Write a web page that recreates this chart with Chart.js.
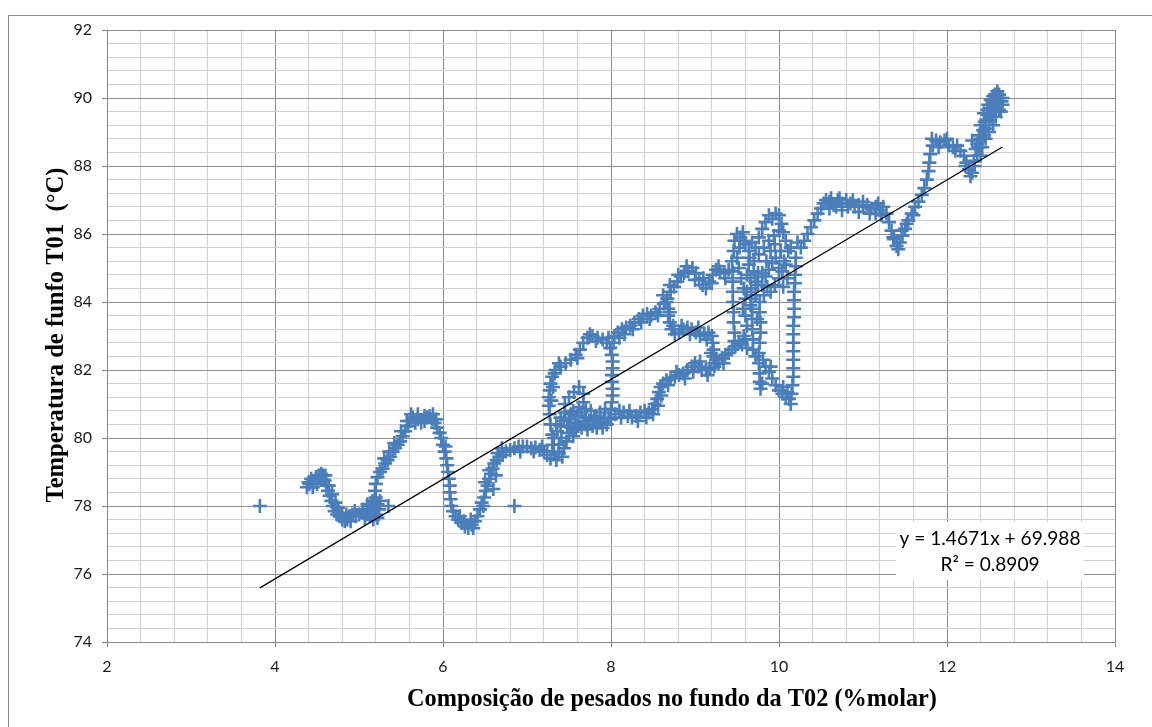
<!DOCTYPE html>
<html lang="pt">
<head>
<meta charset="utf-8">
<title>Temperatura de fundo T01 x composição de pesados T02</title>
<script src="https://cdn.jsdelivr.net/npm/chart.js@4/dist/chart.umd.min.js"></script>
<style>
  html, body { margin: 0; padding: 0; background: #ffffff; }
  #quadro { position: relative; width: 1152px; height: 727px; overflow: hidden; }
  #moldura { position: absolute; left: 8px; top: 15px; width: 1300px; height: 900px;
             border: 1px solid #8c8c8c; box-sizing: border-box; }
  #grafico { position: absolute; left: 0; top: 0; }
</style>
</head>
<body>
<div id="quadro">
  <div id="moldura"></div>
  <canvas id="grafico" width="1152" height="727"></canvas>
</div>
<script>
// Leituras (composição %molar, temperatura °C), agrupadas por trecho da trajetória
const trechoInicial = [
  [3.82,78.0],
  [4.38,78.55],[4.41,78.65],[4.43,78.8],[4.46,78.7],[4.49,78.85],[4.52,78.9],[4.55,78.8],[4.57,78.9],
  [4.59,78.75],[4.61,78.6],[4.63,78.45],[4.65,78.3],[4.67,78.15],[4.69,78.0],[4.71,77.85],[4.74,77.75],
  [4.77,77.7],[4.8,77.6],[4.83,77.55],[4.86,77.6],[4.89,77.7],[4.92,77.75],[4.96,77.7],[5.0,77.75],
  [5.04,77.8],[5.08,77.75],[5.11,77.85],[5.14,78.0],[5.16,78.15],[5.18,77.9],[5.2,77.75],[5.22,78.05],
  [5.24,77.9],[5.17,77.6],[5.2,78.25],
  [5.35,78.0],
  [5.19,78.45],[5.2,78.65],[5.22,78.85],[5.25,79.0],[5.28,79.1],[5.31,79.25],[5.34,79.35],[5.37,79.45],
  [5.4,79.6],[5.43,79.7],[5.46,79.8],[5.49,79.9],[5.52,80.05],[5.55,80.2],[5.58,80.35],[5.61,80.5],
  [5.64,80.6],[5.67,80.45],[5.7,80.55],[5.74,80.45],[5.78,80.5],[5.81,80.6],[5.84,80.65],[5.87,80.55],
  [5.9,80.45],[5.93,80.3],[5.96,80.15],[5.98,80.0],[6.0,79.8],[6.02,79.6],[6.04,79.4],[6.05,79.2],
  [6.06,79.0],[6.07,78.8],[6.08,78.6],[6.08,78.4],[6.09,78.2],[6.1,78.0],[6.12,77.85],[6.15,77.7],
  [6.18,77.6],[6.22,77.5],[6.26,77.4],[6.3,77.35],[6.34,77.45],[6.38,77.55],[6.41,77.7],[6.44,77.9],
  [6.46,78.1],[6.49,78.25],[6.51,78.45],[6.53,78.6],[6.55,78.8],[6.57,78.95],[6.59,79.1],[6.61,79.25],
  [6.64,79.35],[6.67,79.45],[6.71,79.5],[6.75,79.6],[6.8,79.65],[6.85,79.7],[6.9,79.75],[6.95,79.75],
  [7.0,79.75],[7.05,79.7],[7.1,79.72],[7.15,79.65],[7.2,79.6],[7.24,79.5],
  [6.5,78.7],[6.55,79.05],[6.6,78.5],[6.63,78.9],
  [6.85,78.0],
  [4.4,78.7],[4.45,78.55],[4.5,78.65],[4.55,78.95],[4.6,78.9],[4.64,78.6],[4.68,78.35],[4.72,78.1],
  [4.75,77.95],[4.8,77.8],[4.85,77.75],[4.9,77.55],[4.95,77.85],[5.05,77.9],[5.1,78.05],[5.13,77.7],
  [5.18,78.1],[5.22,77.65],[5.25,78.15],[5.07,77.65],[5.3,79.4],[5.36,79.6],[5.42,79.85],[5.5,80.2],
  [5.57,80.5],[5.62,80.7],[5.7,80.7],[5.78,80.65],[5.88,80.7],[5.92,80.55],[6.03,79.75],[6.2,77.7],
  [6.25,77.55],[6.33,77.6],[6.36,77.35],[6.48,78.0],[6.65,79.55],[6.7,79.7],[6.92,79.6],[7.08,79.6],
  [7.18,79.75]
];

const trechoCentral = [
  [7.28,79.4],[7.32,79.6],[7.35,79.35],[7.38,79.8],[7.41,80.0],[7.44,79.7],[7.47,79.9],[7.5,80.15],
  [7.53,80.3],[7.57,80.45],[7.61,80.35],[7.65,80.3],[7.7,80.4],[7.74,80.5],[7.78,80.35],[7.83,80.3],
  [7.88,80.45],[7.92,80.55],[7.97,80.6],
  [7.35,80.4],[7.4,80.6],[7.45,80.75],[7.5,80.55],[7.55,80.8],[7.6,80.65],[7.65,80.75],[7.7,80.6],
  [7.76,80.8],[7.82,80.65],[7.87,80.75],[7.93,80.85],
  [7.3,80.1],[7.28,80.4],[7.27,80.7],[7.26,80.95],[7.26,81.2],[7.27,81.4],[7.28,81.6],[7.3,81.8],
  [7.34,82.0],[7.4,82.1],[7.46,82.2],[7.52,82.3],[7.58,82.45],[7.63,82.6],[7.67,82.8],[7.72,82.95],
  [7.78,83.0],[7.84,82.95],[7.9,82.9],[7.95,82.8],[7.99,82.65],
  [8.01,82.45],[8.02,82.25],[8.02,82.05],[8.01,81.85],[8.01,81.65],[8.02,81.45],[8.02,81.25],[8.01,81.05],
  [8.0,80.85],
  [7.45,81.0],[7.5,81.2],[7.56,81.35],[7.62,81.5],[7.67,81.3],[7.67,81.05],[7.7,80.85],
  [8.05,80.7],[8.1,80.8],[8.15,80.75],[8.2,80.65],[8.25,80.6],[8.3,80.65],[8.35,80.75],[8.4,80.8],
  [8.45,80.75],[8.49,80.85],[8.52,81.0],[8.55,81.15],[8.57,81.35],[8.59,81.5],[8.62,81.6],[8.66,81.7],
  [8.71,81.75],[8.76,81.8],[8.81,81.85],[8.86,81.9],[8.91,82.0],[8.96,82.1],[9.0,82.2],[9.04,82.1],
  [9.08,82.0],[9.13,82.0],[9.18,82.05],[9.23,82.1],[9.28,82.2],[9.32,82.35],[9.36,82.45],[9.4,82.5],
  [8.04,83.0],[8.08,83.1],[8.13,83.2],[8.18,83.25],[8.23,83.3],[8.28,83.4],[8.33,83.5],[8.38,83.6],
  [8.43,83.65],[8.48,83.6],[8.53,83.7],[8.58,83.8],[8.63,83.95],[8.67,84.1],[8.71,84.3],[8.75,84.45],
  [8.79,84.6],[8.83,84.75],[8.87,84.85],[8.92,84.9],[8.97,85.0],[9.01,84.85],[9.05,84.65],[9.09,84.5],
  [9.13,84.4],[9.17,84.6],[9.21,84.8],[9.25,84.95],[9.3,84.9],[9.35,84.85],[9.4,84.95],
  [8.68,83.8],[8.68,83.6],[8.7,83.4],[8.72,83.2],[8.76,83.05],[8.81,83.1],[8.86,83.2],[8.91,83.25],
  [8.96,83.2],[9.01,83.1],[9.06,83.0],[9.11,83.05],[9.16,83.1],[9.2,83.0],[9.21,82.8],[9.22,82.6],
  [9.22,82.4],[9.23,82.2],
  [7.32,80.0],[7.36,80.2],[7.4,80.35],[7.44,80.5],[7.48,80.35],[7.52,80.7],[7.58,80.25],[7.62,80.9],
  [7.68,80.5],[7.72,80.25],[7.8,80.55],[7.85,80.45],[7.9,80.3],[7.95,80.4],[8.0,80.55],[7.42,79.45],
  [7.38,79.55],[7.55,80.05],[7.3,79.8],
  [7.31,81.5],[7.29,81.1],[7.33,81.9],[7.38,82.2],[7.6,82.35],[7.75,83.05],[7.82,82.85],[7.97,82.95],
  [8.03,82.8],[8.1,82.95],[8.16,83.05],[8.26,83.2],[8.36,83.4],[8.46,83.5],[8.56,83.6],[8.62,84.2],
  [8.7,84.5],[8.8,84.8],[8.9,85.05],[9.0,84.65],[9.1,84.7],[9.2,84.55],[9.28,85.05],[9.36,84.7],
  [8.12,80.6],[8.22,80.8],[8.32,80.5],[8.42,80.6],[8.5,80.7],[8.56,80.95],[8.6,81.25],[8.68,81.55],
  [8.78,81.95],[8.88,81.75],[8.98,81.95],[9.06,82.25],[9.15,81.85],[9.25,82.3],[9.34,82.2],
  [8.66,84.0],[8.7,83.7],[8.74,83.3],[8.84,83.3],[8.94,83.05],[9.04,83.25],[9.14,82.9],[9.19,82.5]
];

const trechoSuperior = [
  [9.44,82.6],[9.48,82.7],[9.52,82.8],[9.56,82.75],[9.6,82.9],[9.62,82.65],
  [9.44,85.2],[9.46,85.5],[9.47,85.8],[9.45,84.9],[9.45,84.6],[9.45,84.3],[9.45,84.0],[9.46,83.7],
  [9.46,83.4],[9.47,83.1],[9.47,82.85],
  [9.5,86.0],[9.54,85.9],[9.57,86.05],[9.6,85.7],
  [9.66,84.7],[9.67,84.4],[9.67,84.1],[9.68,83.8],[9.68,83.5],[9.68,83.2],[9.69,82.9],[9.69,82.6],
  [9.77,84.0],[9.77,83.7],[9.78,83.4],[9.78,83.1],[9.77,82.8],[9.76,82.5],[9.76,82.2],[9.77,81.9],
  [9.77,81.65],[9.78,81.45],
  [9.81,82.3],[9.84,82.1],[9.88,81.95],[9.92,81.75],[9.96,81.55],[10.0,81.4],[10.04,81.3],[10.08,81.2],
  [10.12,81.15],[10.15,81.3],
  [10.16,81.55],[10.17,81.8],[10.17,82.05],[10.17,82.3],[10.17,82.55],[10.17,82.8],[10.17,83.05],
  [10.17,83.3],[10.18,83.55],[10.18,83.8],[10.18,84.05],[10.18,84.3],[10.19,84.55],[10.19,84.8],
  [10.2,85.05],[10.2,85.3],
  [9.64,85.5],[9.68,85.75],[9.72,85.6],[9.76,85.9],[9.8,86.15],[9.84,86.35],[9.88,86.55],[9.92,86.45],
  [9.96,86.6],[10.0,86.55],[10.03,86.3],[10.05,86.05],[10.08,85.8],[10.11,85.5],[10.14,85.6],
  [10.22,85.75],[10.26,85.6],[10.3,85.8],[10.34,86.0],[10.38,86.2],[10.42,86.4],[10.46,86.6],[10.5,86.75],
  [10.53,86.9],[10.56,87.0],
  [9.52,85.0],[9.55,84.7],[9.58,84.4],[9.6,84.1],[9.62,84.8],[9.64,85.1],[9.72,84.6],[9.75,84.85],
  [9.8,84.5],[9.84,84.75],[9.88,84.95],[9.92,85.15],[9.96,85.3],[10.0,85.0],[9.72,84.2],[9.82,84.2],
  [9.86,84.45],[9.9,84.3],[9.95,84.5],[10.0,84.7],[10.04,84.9],[10.08,85.1],[10.05,84.45],[9.6,83.6],
  [9.62,83.3],[9.58,83.0],[9.7,85.2],[9.76,85.4],[9.82,85.6],[9.88,85.8],[9.94,85.95],[10.0,86.1],
  [9.5,85.3],[9.53,85.6],[9.58,85.8],[9.65,85.3],[9.7,84.9],[9.75,84.5],[9.8,84.85],[9.85,85.2],
  [9.9,85.5],[9.95,85.7],[10.02,85.5],[10.06,85.2],[10.1,84.7],[9.62,84.3],[9.57,83.8],[9.66,83.9],
  [9.74,83.5],[9.72,82.4],[9.8,81.6],[9.9,82.1],[10.05,81.5],[10.1,81.35],[10.14,81.0]
];

const trechoFinal = [
  [10.6,86.95],[10.65,86.85],[10.7,87.0],[10.75,86.9],[10.8,87.0],[10.85,86.9],[10.9,86.8],[10.95,86.85],
  [11.0,86.8],[11.05,86.85],[11.1,86.75],[11.15,86.8],[11.2,86.7],[11.24,86.8],[11.28,86.6],[11.31,86.35],
  [11.34,86.1],[11.37,85.85],[11.4,85.65],[11.44,85.75],[11.47,85.95],[11.5,86.15],[11.54,86.4],
  [11.58,86.6],[11.62,86.8],[11.66,86.95],[11.7,87.15],[11.73,87.35],[11.76,87.6],[11.78,87.85],
  [11.79,88.1],[11.8,88.35],[11.83,88.6],[11.87,88.75],[11.92,88.7],[11.97,88.75],[12.02,88.6],
  [12.07,88.55],[12.12,88.6],[12.16,88.45],[12.2,88.3],[12.23,88.1],[12.26,87.9],[12.3,87.8],[12.33,88.0],
  [12.36,88.3],[12.38,88.55],[12.4,88.8],[12.43,89.05],[12.45,89.3],[12.48,89.5],[12.51,89.7],[12.54,89.9],
  [12.57,90.1],[12.6,90.2],[12.63,90.0],[12.65,89.9],[12.66,89.8],[12.62,89.65],[12.58,89.45],[12.55,89.2],
  [12.5,89.0],[12.46,88.8],[12.42,88.55],[12.36,88.65],[12.3,88.75],[12.44,89.55],[12.49,89.8],
  [12.53,89.45],[12.59,89.75],[12.64,89.6],
  [10.6,86.75],[10.75,86.7],[10.95,86.65],[11.15,86.6],
  [10.62,87.05],[10.68,86.8],[10.72,87.05],[10.82,86.8],[10.88,87.0],[11.0,86.95],[11.08,86.6],
  [11.18,86.9],[11.22,86.55],[11.36,85.9],[11.42,85.55],[11.46,86.1],[11.52,86.3],[11.6,86.55],
  [11.82,88.8],[11.9,88.55],[12.0,88.8],[12.1,88.45],[12.22,88.0],[12.28,87.7],[12.32,88.15],[12.34,88.5],
  [12.4,89.2],[12.46,89.1],[12.5,89.35],[12.52,89.95],[12.56,89.65],[12.6,89.9],[12.62,90.1],[12.66,90.0],
  [12.55,90.05],[12.48,89.65],[12.44,88.9],[12.38,88.9],[12.4,88.3]
];

// Linha de tendência linear (coeficientes do ajuste)
const coefAngular = 1.4671;
const coefLinear = 69.988;
const rotuloEquacao = 'y = 1.4671x + 69.988';
const rotuloR2 = 'R² = 0.8909';

// Eixos
const marcasX = [2, 4, 6, 8, 10, 12, 14];
const marcasY = [74, 76, 78, 80, 82, 84, 86, 88, 90, 92];
const subdivisoes = 5;
const tituloX = 'Composição de pesados no fundo da T02 (%molar)';
const tituloY = 'Temperatura de funfo T01  (°C)';

const corPontos = '#4a7ebb';
const corGradePrincipal = '#8d8d8d';
const corGradeSecundaria = '#d2d2d2';
const corEixo = '#868686';

const pontos = [].concat(trechoInicial, trechoCentral, trechoSuperior, trechoFinal)
  .map(([x, y]) => ({ x, y }));
const xMin = Math.min(...pontos.map(p => p.x));
const xMax = Math.max(...pontos.map(p => p.x));
const tendencia = [xMin, xMax].map(x => ({ x, y: coefAngular * x + coefLinear }));

function marcasComSubdivisoes(principais, partes) {
  const lista = [];
  for (let i = 0; i < principais.length - 1; i++) {
    const a = principais[i], b = principais[i + 1];
    for (let k = 0; k < partes; k++) {
      lista.push({ value: a + (b - a) * k / partes, principal: k === 0 });
    }
  }
  lista.push({ value: principais[principais.length - 1], principal: true });
  return lista;
}

const ehPrincipal = c => !!(c && c.tick && c.tick.principal);

function eixo(principais, larguraOuAltura, horizontal) {
  return {
    type: 'linear',
    min: principais[0],
    max: principais[principais.length - 1],
    afterBuildTicks: s => { s.ticks = marcasComSubdivisoes(principais, subdivisoes); },
    afterFit: s => { if (horizontal) s.height = larguraOuAltura; else s.width = larguraOuAltura; },
    ticks: {
      autoSkip: false,
      maxRotation: 0,
      padding: 10,
      color: '#1a1a1a',
      font: { family: 'Lato', size: 16 },
      callback: (v, i, t) => (t[i] && t[i].principal) ? String(Math.round(v)) : ''
    },
    grid: {
      color: c => ehPrincipal(c) ? corGradePrincipal : corGradeSecundaria,
      tickColor: c => ehPrincipal(c) ? corEixo : 'rgba(0,0,0,0)',
      tickLength: 5,
      lineWidth: 1
    },
    border: { display: true, color: corEixo, width: 1 }
  };
}

// texto centrado em (x, y) com largura final dada
function textoAjustado(ctx, texto, familia, peso, largura, x, y, angulo) {
  ctx.save();
  ctx.font = `${peso} 20px ${familia}`;
  const tamanho = 20 * largura / ctx.measureText(texto).width;
  ctx.font = `${peso} ${tamanho.toFixed(2)}px ${familia}`;
  ctx.textAlign = 'center';
  ctx.textBaseline = 'middle';
  ctx.translate(x, y);
  if (angulo) ctx.rotate(angulo);
  ctx.fillText(texto, 0, 0);
  ctx.restore();
}

const anotacoes = {
  id: 'anotacoes',
  beforeDatasetsDraw(chart) {
    const ctx = chart.ctx;
    const a = chart.chartArea;
    // caixa da equação de tendência
    const caixa = { x: a.right - 219, y: a.bottom - 120, w: 188, h: 58 };
    ctx.save();
    ctx.fillStyle = '#ffffff';
    ctx.fillRect(caixa.x, caixa.y, caixa.w, caixa.h);
    ctx.fillStyle = '#000000';
    ctx.font = 'normal 20px Lato';
    const k = 181 / ctx.measureText(rotuloEquacao).width;
    const tamanho = (20 * k).toFixed(2);
    ctx.font = `normal ${tamanho}px Lato`;
    ctx.textAlign = 'center';
    ctx.textBaseline = 'middle';
    const cx = caixa.x + caixa.w / 2;
    ctx.fillText(rotuloEquacao, cx, caixa.y + 17);
    ctx.fillText(rotuloR2, cx, caixa.y + 43);
    ctx.restore();
  },
  afterDraw(chart) {
    const ctx = chart.ctx;
    const a = chart.chartArea;
    ctx.fillStyle = '#000000';
    textoAjustado(ctx, tituloX, '"Liberation Serif"', 'bold', 530, 672, 700, 0);
    textoAjustado(ctx, tituloY, '"Liberation Serif"', 'bold', 335, 57, (a.top + a.bottom) / 2 - 1, -Math.PI / 2);
  }
};

new Chart(document.getElementById('grafico'), {
  type: 'scatter',
  data: {
    datasets: [
      {
        label: 'Linear',
        data: tendencia,
        showLine: true,
        borderColor: '#000000',
        borderWidth: 1.2,
        pointRadius: 0,
        fill: false,
        order: 0
      },
      {
        label: 'T01',
        data: pontos,
        pointStyle: 'cross',
        pointRadius: 7,
        borderWidth: 2.6,
        borderColor: corPontos,
        backgroundColor: corPontos,
        order: 1
      }
    ]
  },
  options: {
    responsive: false,
    animation: false,
    events: [],
    layout: { padding: { left: 0, top: 30, right: 37, bottom: 0 } },
    plugins: { legend: { display: false }, tooltip: { enabled: false } },
    scales: {
      x: eixo(marcasX, 85, true),
      y: eixo(marcasY, 107, false)
    }
  },
  plugins: [anotacoes]
});
</script>
</body>
</html>
